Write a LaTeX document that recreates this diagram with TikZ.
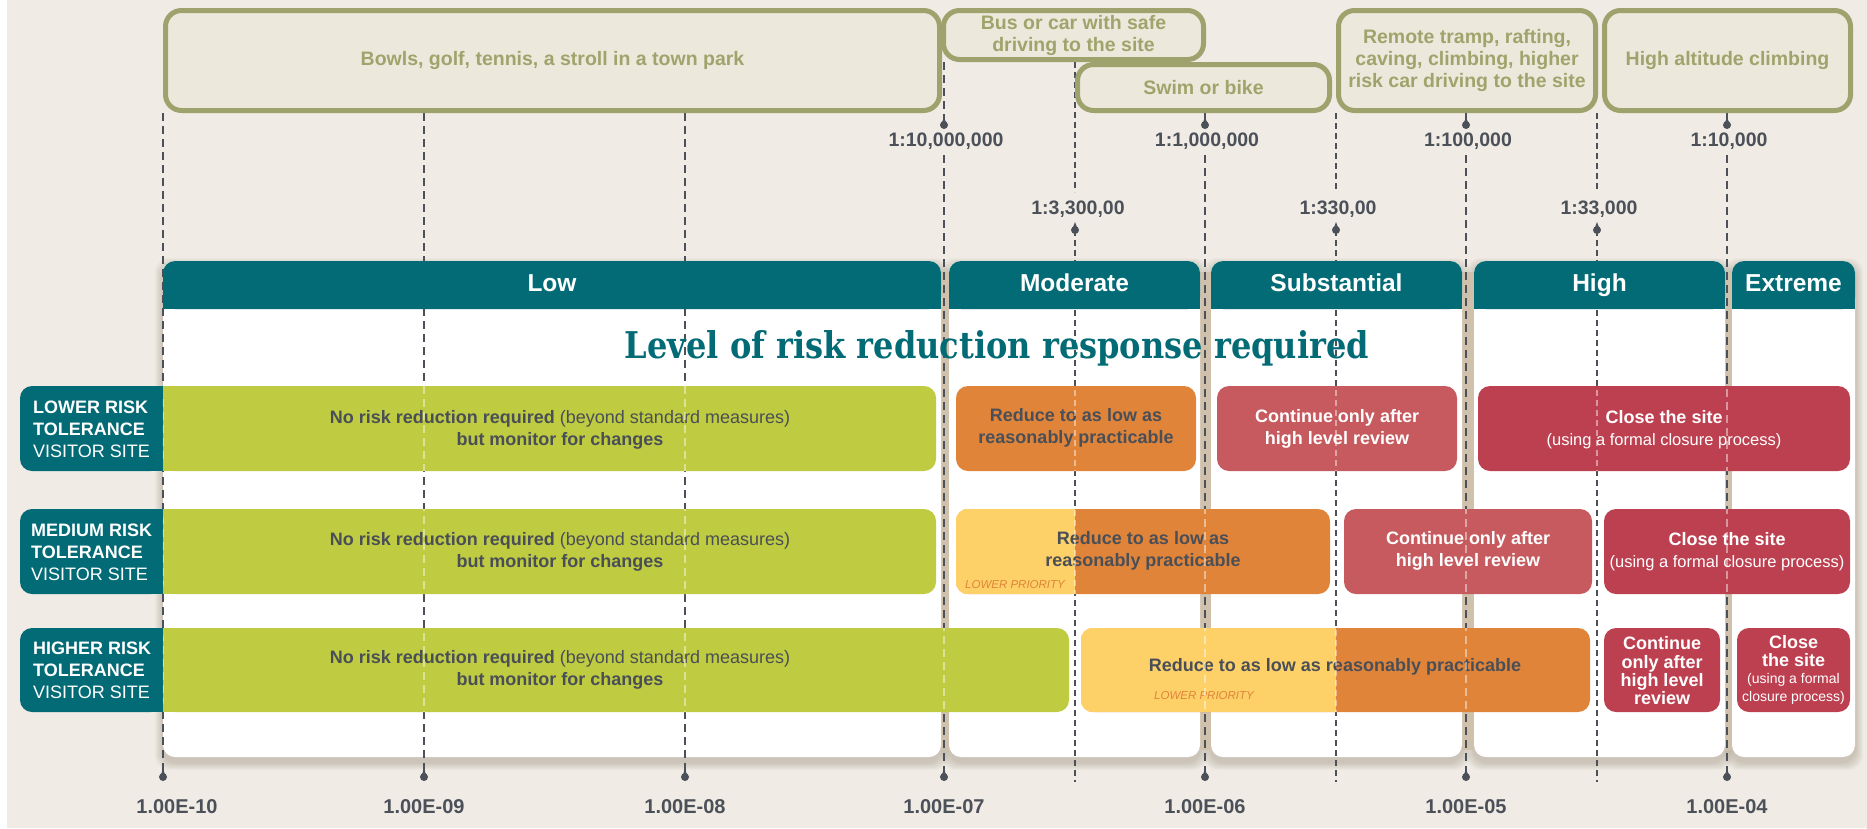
\documentclass[tikz,border=0pt]{standalone}
\usepackage{fontspec}
\setmainfont{Liberation Sans}
\newfontfamily\titlefont{DejaVu Serif}
\usetikzlibrary{calc}
\definecolor{bgc}{HTML}{F0ECE5}
\definecolor{boxfill}{HTML}{ECE8DB}
\definecolor{olivebd}{HTML}{9EA26D}
\definecolor{olivetx}{HTML}{A0A46C}
\definecolor{tealc}{HTML}{026B75}
\definecolor{greenc}{HTML}{BFCB40}
\definecolor{orangec}{HTML}{E0843A}
\definecolor{yellowc}{HTML}{FDD068}
\definecolor{mutedred}{HTML}{C65A5E}
\definecolor{deepred}{HTML}{BD4050}
\definecolor{darktx}{HTML}{4A4F57}
\definecolor{linec}{HTML}{4B5059}
\definecolor{gapc}{HTML}{CFC1AB}
\definecolor{shadowc}{HTML}{6B5A40}
\newcommand\fsz[2]{\fontsize{#1}{#2}\selectfont}
\newcommand\mybox[7][]{\node[#1, minimum width={#4-#3}, minimum height={#6-#5}] (#2) at ({(#3+#4)/2},{(#5+#6)/2}) {#7};}
\newcommand\pintail[1]{\fill[linec] ($(#1.center)+(-2.6,-1)$) -- ($(#1.center)+(0,-8)$) -- ($(#1.center)+(2.6,-1)$) -- cycle;}
\newcommand\gridlines[2]{%
  \foreach \k in {0,1,2} {\draw[#1] (mt\k) -- (pb\k.center);}
  \foreach \k in {3,4,5,6} {\draw[#1] (mt\k) -- (pt\k.center); \draw[#1] (mc\k) -- (pb\k.center);}
  \foreach \k in {0,1,2} {\draw[#2] (nt\k) -- (ne\k); \draw[#2] (np\k.center) -- (nb\k);}
}
\tikzset{
  topbox/.style={draw=olivebd, line width=5pt, fill=boxfill, rounded corners=16pt, inner sep=0pt, text=olivetx, font=\bfseries\fsz{19.5}{22}, align=center},
  panel/.style={fill=white, rounded corners=12pt, inner sep=0pt},
  header/.style={fill=tealc, rounded corners=12pt, inner sep=0pt, text=white, font=\bfseries\fsz{24.5}{28}, text height=18pt, text depth=5pt},
  majorline/.style={draw=linec, line width=2.5pt, dash pattern=on 8pt off 5pt},
  minorline/.style={draw=linec, line width=1.6pt, dash pattern=on 6pt off 4pt},
  pindot/.style={circle, fill=linec, inner sep=0pt, minimum size=8pt},
  scalelbl/.style={text=linec, font=\bfseries\fsz{19.5}{22}, inner sep=0pt},
  botlbl/.style={text=linec, font=\bfseries\fsz{20}{22}, inner sep=0pt},
  rowbox/.style={rounded corners=12pt, inner sep=0pt},
  rowlbl/.style={text=white, font=\fsz{18}{22}, align=left, inner sep=0pt, anchor=west},
  darktxt/.style={text=darktx, font=\fsz{18}{22}, align=center, inner sep=0pt},
  whitetxt/.style={text=white, font=\fsz{18}{22}, align=center, inner sep=0pt},
  lowprio/.style={text=orangec, font=\itshape\fsz{11.5}{13}, inner sep=0pt, anchor=west},
}
\begin{document}
\begin{tikzpicture}[x=1pt,y=-1pt]
\useasboundingbox (0,0) rectangle (1867,828);
\fill[bgc] (0,0) rectangle (1867,828);
\fill[white] (0,0) rectangle (7,828);

% panel shadows
\foreach \a/\b in {163/941, 949/1200, 1211/1462, 1474/1725, 1732/1855} {
  \foreach \i in {1,...,8} {
    \fill[shadowc, opacity=0.035, rounded corners=14pt] ({\a-\i},{261-\i+5}) rectangle ({\b+\i},{757+\i+5});
  }
}
\fill[gapc] (163,272) rectangle (1855,750);

% white panels
\mybox[panel]{p1}{163}{941}{261}{757}{}
\mybox[panel]{p2}{949}{1200}{261}{757}{}
\mybox[panel]{p3}{1211}{1462}{261}{757}{}
\mybox[panel]{p4}{1474}{1725}{261}{757}{}
\mybox[panel]{p5}{1732}{1855}{261}{757}{}

% coordinates and pins
\foreach \k/\x/\t in {0/163/113,1/424/113,2/685/113,3/944/62,4/1205/113,5/1466/113,6/1727/113} {
  \coordinate (mt\k) at (\x,\t);
  \coordinate (mc\k) at (\x,155);
  \node[pindot] (pb\k) at (\x,777) {};
}
\foreach \k/\x in {3/944,4/1205,5/1466,6/1727} {\node[pindot] (pt\k) at (\x,125) {};}
\foreach \k/\x/\t in {0/1075/62,1/1336/113,2/1597/113} {
  \coordinate (nt\k) at (\x,\t);
  \coordinate (ne\k) at (\x,192);
  \node[pindot] (np\k) at (\x,230) {};
  \coordinate (nb\k) at (\x,782);
}
\foreach \n in {pb0,pb1,pb2,pb3,pb4,pb5,pb6,pt3,pt4,pt5,pt6,np0,np1,np2} {\pintail{\n}}

% dashed lines
\gridlines{majorline}{minorline}

% scale labels
\node[scalelbl] (lt3) at (946,141) {1:10,000,000};
\node[scalelbl] (lt4) at (1207,141) {1:1,000,000};
\node[scalelbl] (lt5) at (1468,141) {1:100,000};
\node[scalelbl] (lt6) at (1729,141) {1:10,000};
\node[scalelbl] (nl0) at (1078,209) {1:3,300,00};
\node[scalelbl] (nl1) at (1338,209) {1:330,00};
\node[scalelbl] (nl2) at (1599,209) {1:33,000};
\node[botlbl] (bl0) at (177,807) {1.00E-10};
\node[botlbl] (bl1) at (424,807) {1.00E-09};
\node[botlbl] (bl2) at (685,807) {1.00E-08};
\node[botlbl] (bl3) at (944,807) {1.00E-07};
\node[botlbl] (bl4) at (1205,807) {1.00E-06};
\node[botlbl] (bl5) at (1466,807) {1.00E-05};
\node[botlbl] (bl6) at (1727,807) {1.00E-04};

% headers
\foreach \a/\b in {163/941, 949/1200, 1211/1462, 1474/1725, 1732/1855} {\fill[tealc] (\a,285) rectangle (\b,309);}
\mybox[header]{h1}{163}{941}{261}{309}{Low}
\mybox[header]{h2}{949}{1200}{261}{309}{Moderate}
\mybox[header]{h3}{1211}{1462}{261}{309}{Substantial}
\mybox[header]{h4}{1474}{1725}{261}{309}{High}
\mybox[header]{h5}{1732}{1855}{261}{309}{Extreme}

% activity boxes
\mybox[topbox]{a1}{165.5}{939.5}{10.5}{110.5}{Bowls, golf, tennis, a stroll in a town park}
\mybox[topbox]{a3}{1077.5}{1329.5}{64.5}{110.5}{Swim or bike}
\mybox[topbox]{a2}{943.5}{1203.5}{10.5}{59.5}{Bus or car with safe\\driving to the site}
\mybox[topbox]{a4}{1338.5}{1595.5}{10.5}{110.5}{Remote tramp, rafting,\\caving, climbing, higher\\risk car driving to the site}
\mybox[topbox]{a5}{1604.5}{1850.5}{10.5}{110.5}{High altitude climbing}

% title
\node[anchor=base, text=tealc, inner sep=0pt] (title) at (997,358) {\resizebox{744pt}{28pt}{\titlefont\bfseries Level of risk reduction response required}};

% row label boxes
\foreach \t/\b in {386/471, 509/594, 628/712} {\fill[tealc] (90,\t) rectangle (163,\b); \fill[greenc] (163,\t) rectangle (300,\b);}
\mybox[rowbox, fill=tealc]{rl1}{20}{163}{386}{471}{}
\mybox[rowbox, fill=tealc]{rl2}{20}{163}{509}{594}{}
\mybox[rowbox, fill=tealc]{rl3}{20}{163}{628}{712}{}
\node[rowlbl] (rlt1) at (33,429) {\textbf{LOWER RISK}\\\textbf{TOLERANCE}\\VISITOR SITE};
\node[rowlbl] (rlt2) at (31,552) {\textbf{MEDIUM RISK}\\\textbf{TOLERANCE}\\VISITOR SITE};
\node[rowlbl] (rlt3) at (33,670) {\textbf{HIGHER RISK}\\\textbf{TOLERANCE}\\VISITOR SITE};

% row 1
\mybox[rowbox, fill=greenc]{g1}{163}{936}{386}{471}{}
\mybox[rowbox, fill=orangec]{o1}{956}{1196}{386}{471}{}
\mybox[rowbox, fill=mutedred]{c1}{1217}{1457}{386}{471}{}
\mybox[rowbox, fill=deepred]{x1}{1478}{1850}{386}{471}{}
% row 2
\mybox[rowbox, fill=greenc]{g2}{163}{936}{509}{594}{}
\mybox[rowbox, fill=orangec]{o2}{956}{1330}{509}{594}{}
\begin{scope}
\clip[rounded corners=12pt] (o2.north west) rectangle (o2.south east);
\fill[yellowc] (o2.north west) rectangle (1075,594);
\end{scope}
\mybox[rowbox, fill=mutedred]{c2}{1344}{1592}{509}{594}{}
\mybox[rowbox, fill=deepred]{x2}{1604}{1850}{509}{594}{}
% row 3
\mybox[rowbox, fill=greenc]{g3}{163}{1069}{628}{712}{}
\mybox[rowbox, fill=orangec]{o3}{1081}{1590}{628}{712}{}
\begin{scope}
\clip[rounded corners=12pt] (o3.north west) rectangle (o3.south east);
\fill[yellowc] (o3.north west) rectangle (1336,712);
\end{scope}
\mybox[rowbox, fill=deepred]{c3}{1604}{1720}{628}{712}{}
\mybox[rowbox, fill=deepred]{x3}{1737}{1850}{628}{712}{}

% row texts
\node[darktxt] (gt1) at (560,430) {\textbf{No risk reduction required} (beyond standard measures)\\\textbf{but monitor for changes}};
\node[darktxt] (gt2) at (560,552) {\textbf{No risk reduction required} (beyond standard measures)\\\textbf{but monitor for changes}};
\node[darktxt] (gt3) at (560,670) {\textbf{No risk reduction required} (beyond standard measures)\\\textbf{but monitor for changes}};
\node[darktxt, font=\bfseries\fsz{18}{22}] (ot1) at (1076,428) {Reduce to as low as\\reasonably practicable};
\node[darktxt, font=\bfseries\fsz{18}{22}] (ot2) at (1143,551) {Reduce to as low as\\reasonably practicable};
\node[lowprio] (lp2) at (965,585) {LOWER PRIORITY};
\node[darktxt, font=\bfseries\fsz{18}{22}] (ot3) at (1335,667) {Reduce to as low as reasonably practicable};
\node[lowprio] (lp3) at (1154,696) {LOWER PRIORITY};
\node[whitetxt, font=\bfseries\fsz{18}{22}] (ct1) at (1337,429) {Continue only after\\high level review};
\node[whitetxt, font=\bfseries\fsz{18}{22}] (ct2) at (1468,551) {Continue only after\\high level review};
\node[whitetxt, font=\bfseries\fsz{18}{18.3}] (ct3) at (1662,671) {Continue\\only after\\high level\\review};
\node[whitetxt] (xt1) at (1664,430) {\textbf{Close the site}\\\fsz{16.5}{20}(using a formal closure process)};
\node[whitetxt] (xt2) at (1727,552) {\textbf{Close the site}\\\fsz{16.5}{20}(using a formal closure process)};
\node[whitetxt, font=\fsz{18}{17.5}] (xt3) at (1793.5,670) {\textbf{Close}\\\textbf{the site}\\\fsz{14}{17.5}(using a formal\\\fsz{14}{17.5}closure process)};

% light dashed lines over coloured boxes
\begin{scope}
\clip[rounded corners=12pt]
  (g1.north west) rectangle (g1.south east) (o1.north west) rectangle (o1.south east)
  (c1.north west) rectangle (c1.south east) (x1.north west) rectangle (x1.south east)
  (g2.north west) rectangle (g2.south east) (o2.north west) rectangle (o2.south east)
  (c2.north west) rectangle (c2.south east) (x2.north west) rectangle (x2.south east)
  (g3.north west) rectangle (g3.south east) (o3.north west) rectangle (o3.south east)
  (c3.north west) rectangle (c3.south east) (x3.north west) rectangle (x3.south east);
\gridlines{majorline, draw=white, opacity=0.45}{minorline, draw=white, opacity=0.45}
\end{scope}
\end{tikzpicture}
\end{document}
